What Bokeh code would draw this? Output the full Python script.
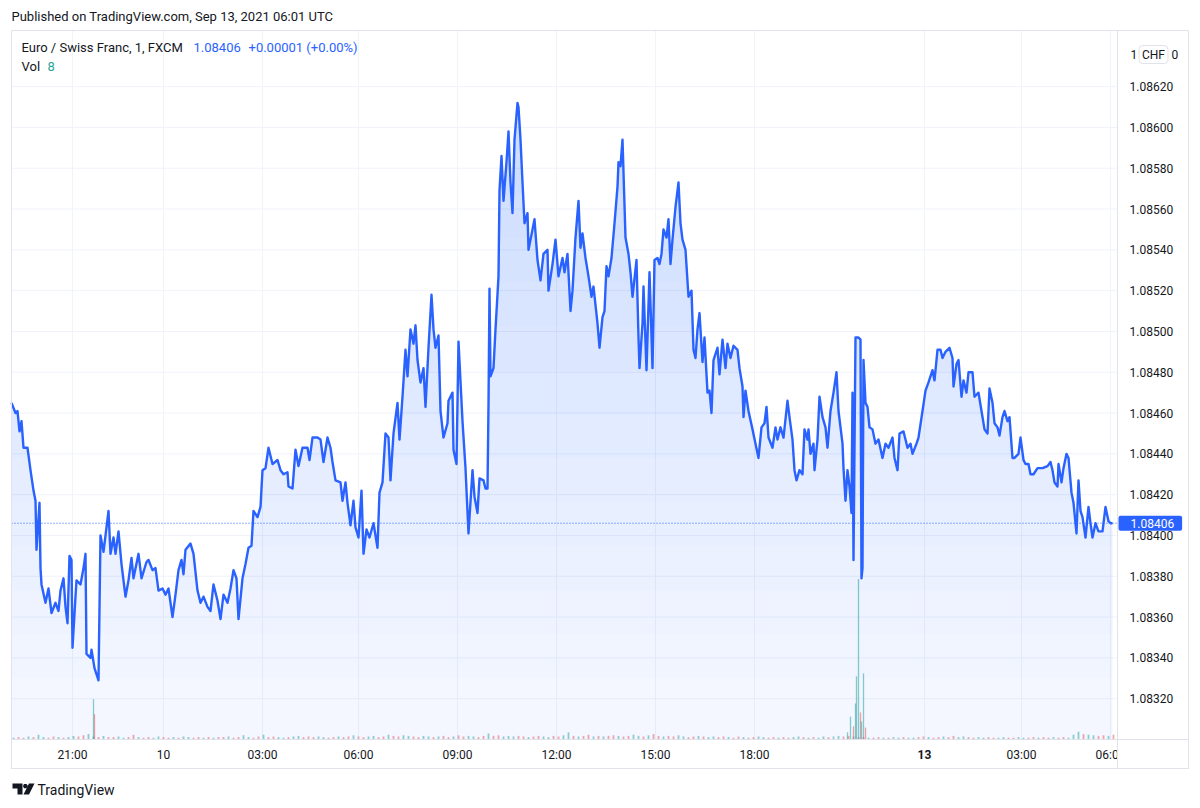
import numpy as np
from bokeh.plotting import figure
from bokeh.models import (Range1d, FixedTicker, PrintfTickFormatter, Label,
                          BoxAnnotation, PolyAnnotation)
from bokeh.embed import file_html
from bokeh.resources import INLINE

# ---------------- data (1-minute EUR/CHF, bar index along the compressed time axis) -------------
bar_idx = [0, 4, 6, 8, 10, 12, 16, 19, 22, 24, 25, 28, 29, 30, 34, 37, 40, 44, 47, 49, 52, 54, 56, 58, 60,
           61, 64, 65, 69, 72, 74, 75, 79, 80, 83, 87, 89, 92, 97, 99, 102, 104, 107, 110, 114, 117, 120,
           122, 127, 130, 135, 137, 141, 144, 147, 151, 154, 157, 161, 164, 167, 170, 172, 174, 179, 182,
           186, 189, 192, 196, 199, 202, 206, 209, 212, 216, 219, 222, 225, 227, 231, 234, 237, 240, 242,
           246, 249, 251, 254, 257, 261, 266, 269, 272, 276, 277, 281, 284, 287, 291, 296, 298, 301, 306,
           309, 312, 316, 319, 321, 324, 329, 331, 334, 336, 339, 342, 344, 347, 350, 352, 355, 358, 362,
           366, 368, 371, 374, 377, 379, 382, 386, 388, 391, 394, 396, 399, 402, 404, 406, 409, 412, 414,
           417, 420, 422, 424, 427, 429, 432, 436, 437, 441, 442, 445, 447, 451, 454, 457, 461, 463, 466,
           468, 472, 474, 476, 477, 478, 479, 482, 484, 487, 488, 490, 492, 495, 497, 499, 501, 503, 506,
           507, 509, 511, 513, 516, 517, 521, 523, 526, 529, 532, 536, 537, 541, 544, 547, 551, 553, 556,
           559, 561, 564, 567, 569, 571, 574, 577, 580, 582, 586, 588, 591, 593, 595, 597, 600, 603, 606,
           607, 609, 611, 612, 614, 617, 619, 621, 625, 627, 628, 631, 632, 635, 638, 641, 643, 646, 648,
           650, 652, 655, 657, 659, 661, 664, 667, 669, 671, 674, 677, 680, 682, 684, 686, 688, 691, 693,
           696, 698, 700, 702, 706, 708, 711, 714, 716, 719, 722, 726, 728, 731, 732, 734, 737, 741, 744,
           747, 750, 753, 755, 757, 761, 764, 766, 769, 772, 776, 778, 781, 783, 785, 788, 791, 793, 796,
           797, 799, 802, 803, 806, 808, 811, 814, 816, 819, 822, 825, 827, 831, 832, 834, 836, 838, 840,
           841, 842, 844, 847, 849, 850, 851, 852, 854, 856, 858, 861, 864, 867, 871, 874, 877, 881, 883,
           886, 888, 892, 896, 899, 901, 905, 907, 911, 914, 917, 921, 923, 926, 929, 931, 934, 938, 941,
           942, 945, 947, 950, 952, 955, 957, 961, 963, 967, 970, 973, 976, 978, 981, 983, 986, 988, 991,
           993, 996, 998, 1001, 1003, 1007, 1009, 1012, 1014, 1017, 1019, 1022, 1026, 1031, 1036, 1039,
           1041, 1043, 1046, 1047, 1050, 1052, 1055, 1057, 1060, 1062, 1065, 1067, 1069, 1071, 1074, 1077,
           1079, 1081, 1084, 1087, 1091, 1094, 1097, 1099, 1101]

close = [1.08465, 1.08460, 1.08461, 1.08451, 1.08456, 1.08443, 1.08443, 1.08432, 1.08422, 1.08417, 1.08393,
         1.08416, 1.08384, 1.08376, 1.08367, 1.08374, 1.08362, 1.08367, 1.08363, 1.08373, 1.08379, 1.08365,
         1.08357, 1.08390, 1.08388, 1.08345, 1.08370, 1.08378, 1.08376, 1.08384, 1.08391, 1.08342, 1.08340,
         1.08344, 1.08335, 1.08329, 1.08400, 1.08392, 1.08412, 1.08391, 1.08399, 1.08391, 1.08402, 1.08386,
         1.08370, 1.08378, 1.08389, 1.08379, 1.08391, 1.08379, 1.08387, 1.08388, 1.08383, 1.08384, 1.08373,
         1.08374, 1.08371, 1.08374, 1.08360, 1.08371, 1.08383, 1.08388, 1.08381, 1.08393, 1.08396, 1.08391,
         1.08373, 1.08367, 1.08370, 1.08365, 1.08363, 1.08376, 1.08368, 1.08359, 1.08371, 1.08367, 1.08374,
         1.08383, 1.08379, 1.08359, 1.08379, 1.08386, 1.08394, 1.08395, 1.08412, 1.08409, 1.08414, 1.08432,
         1.08433, 1.08443, 1.08435, 1.08437, 1.08432, 1.08430, 1.08431, 1.08424, 1.08423, 1.08442, 1.08434,
         1.08443, 1.08443, 1.08437, 1.08448, 1.08448, 1.08447, 1.08436, 1.08448, 1.08443, 1.08436, 1.08427,
         1.08426, 1.08417, 1.08426, 1.08416, 1.08405, 1.08417, 1.08404, 1.08399, 1.08422, 1.08391, 1.08403,
         1.08399, 1.08406, 1.08394, 1.08421, 1.08426, 1.08450, 1.08448, 1.08427, 1.08450, 1.08465, 1.08447,
         1.08468, 1.08491, 1.08478, 1.08501, 1.08494, 1.08503, 1.08486, 1.08475, 1.08482, 1.08463, 1.08492,
         1.08518, 1.08501, 1.08492, 1.08498, 1.08461, 1.08448, 1.08455, 1.08466, 1.08470, 1.08442, 1.08435,
         1.08495, 1.08456, 1.08433, 1.08401, 1.08432, 1.08419, 1.08411, 1.08428, 1.08427, 1.08423, 1.08423,
         1.08464, 1.08521, 1.08478, 1.08482, 1.08501, 1.08527, 1.08569, 1.08586, 1.08564, 1.08583, 1.08598,
         1.08573, 1.08558, 1.08594, 1.08612, 1.08610, 1.08594, 1.08573, 1.08553, 1.08558, 1.08540, 1.08550,
         1.08555, 1.08535, 1.08525, 1.08538, 1.08540, 1.08520, 1.08533, 1.08545, 1.08527, 1.08536, 1.08529,
         1.08538, 1.08510, 1.08520, 1.08546, 1.08564, 1.08541, 1.08548, 1.08536, 1.08527, 1.08517, 1.08522,
         1.08504, 1.08492, 1.08507, 1.08510, 1.08532, 1.08527, 1.08536, 1.08553, 1.08571, 1.08583, 1.08581,
         1.08594, 1.08578, 1.08546, 1.08538, 1.08529, 1.08517, 1.08535, 1.08497, 1.08482, 1.08504, 1.08522,
         1.08481, 1.08529, 1.08482, 1.08535, 1.08536, 1.08533, 1.08538, 1.08550, 1.08546, 1.08555, 1.08533,
         1.08545, 1.08561, 1.08573, 1.08553, 1.08545, 1.08540, 1.08517, 1.08520, 1.08491, 1.08487, 1.08501,
         1.08509, 1.08485, 1.08497, 1.08470, 1.08471, 1.08460, 1.08486, 1.08492, 1.08479, 1.08496, 1.08482,
         1.08494, 1.08487, 1.08493, 1.08491, 1.08482, 1.08473, 1.08458, 1.08471, 1.08461, 1.08452, 1.08445,
         1.08438, 1.08453, 1.08455, 1.08463, 1.08448, 1.08443, 1.08453, 1.08447, 1.08453, 1.08448, 1.08466,
         1.08458, 1.08447, 1.08432, 1.08427, 1.08432, 1.08430, 1.08452, 1.08447, 1.08452, 1.08440, 1.08445,
         1.08432, 1.08447, 1.08468, 1.08458, 1.08453, 1.08443, 1.08461, 1.08470, 1.08480, 1.08461, 1.08445,
         1.08433, 1.08417, 1.08432, 1.08424, 1.08411, 1.08470, 1.08388, 1.08497, 1.08497, 1.08496, 1.08379,
         1.08384, 1.08486, 1.08465, 1.08463, 1.08453, 1.08452, 1.08445, 1.08447, 1.08438, 1.08445, 1.08443,
         1.08448, 1.08438, 1.08432, 1.08450, 1.08451, 1.08443, 1.08445, 1.08440, 1.08445, 1.08448, 1.08461,
         1.08471, 1.08475, 1.08481, 1.08476, 1.08491, 1.08491, 1.08487, 1.08490, 1.08492, 1.08487, 1.08473,
         1.08484, 1.08486, 1.08468, 1.08476, 1.08470, 1.08480, 1.08480, 1.08468, 1.08470, 1.08461, 1.08452,
         1.08450, 1.08472, 1.08465, 1.08455, 1.08453, 1.08449, 1.08458, 1.08461, 1.08456, 1.08458, 1.08438,
         1.08438, 1.08440, 1.08448, 1.08437, 1.08435, 1.08435, 1.08430, 1.08430, 1.08433, 1.08433, 1.08434,
         1.08436, 1.08432, 1.08426, 1.08424, 1.08435, 1.08426, 1.08433, 1.08440, 1.08438, 1.08421, 1.08416,
         1.08401, 1.08427, 1.08412, 1.08409, 1.08399, 1.08414, 1.08406, 1.08399, 1.08406, 1.08402, 1.08402,
         1.08414, 1.08407, 1.08406, 1.08406]

# volume: background bars every 5 bars, plus the tall spikes
vol_bar = list(range(2, 1103, 5))
vol = [3, 4, 3, 5, 4, 8, 4, 3, 5, 4, 3, 4, 6, 5, 7, 9, 5, 4, 6, 4,
       4, 5, 3, 4, 8, 4, 3, 4, 3, 5, 4, 3, 4, 3, 5, 4, 3, 4, 3, 4,
       3, 4, 4, 5, 3, 4, 7, 4, 3, 5, 8, 4, 5, 4, 3, 4, 5, 6, 4, 5,
       4, 5, 4, 3, 4, 5, 4, 5, 7, 5, 4, 5, 6, 4, 5, 8, 6, 5, 7, 6,
       5, 4, 6, 5, 4, 5, 6, 4, 5, 7, 5, 6, 5, 4, 6, 10, 6, 7, 5, 6,
       5, 6, 5, 4, 5, 6, 5, 4, 6, 5, 7, 12, 6, 5, 6, 8, 5, 6, 5, 6,
       7, 6, 5, 6, 8, 6, 5, 7, 9, 6, 5, 6, 5, 7, 5, 4, 5, 6, 5, 4,
       5, 4, 5, 4, 3, 5, 4, 3, 4, 5, 4, 3, 4, 3, 4, 3, 4, 5, 4, 3,
       4, 3, 5, 4, 5, 6, 5, 6, 5, 4, 4, 3, 3, 4, 3, 3, 4, 3, 4, 3,
       3, 4, 5, 4, 3, 4, 5, 4, 6, 4, 5, 4, 3, 4, 3, 4, 3, 3, 4, 3,
       3, 4, 3, 3, 4, 3, 4, 3, 4, 3, 4, 3, 8, 13, 9, 8, 7, 6, 7, 6, 8]
vol_dir = ("udduduudduduudduudud" "duuddudduudduduuddud" "uddudduuddudduuduudd"
           "duudduddudduuddudduu" "dduududdudduuddudduu" "uddudduudduududdudud"
           "dudduududdudduuddudu" "udduddudduuddudduudu" "duuduudduddudduduudu"
           "udduddudduudduudduud" "duudduddudduuuduuddud")
spike_bar = [82, 83, 836, 839, 842, 844, 845, 847, 849, 850, 852, 854]
spike_vol = [67, 42, 12, 38, 22, 60, 105, 267, 45, 30, 110, 20]
spike_dir = "uduuduuuduud"

time_tick_bars = [61, 152, 251, 347, 446, 545, 644, 743, 913, 1010, 1099]
time_tick_labels = ["21:00", "10", "03:00", "06:00", "09:00", "12:00", "15:00", "18:00", "13", "03:00", "06:00"]
price_ticks = [1.0832, 1.0834, 1.0836, 1.0838, 1.0840, 1.0842, 1.0844, 1.0846,
               1.0848, 1.0850, 1.0852, 1.0854, 1.0856, 1.0858, 1.0860, 1.0862]
last_price = 1.08406
last_vol = 8

# ---------------- layout / styling -------------
FONT = "Roboto"
BLUE = "#2962FF"
TXT = "#131722"
BORDER = "#e0e3eb"
GRID = "#f0f3fa"
UP = "#26a69a"
DOWN = "#ef5350"

W, H = 1192, 800                    # canvas (px)
LEFT, TOP = 11, 30                  # chart box origin (px)
PANE_W, PANE_H = 1106, 709          # price pane (px)
SCALE_W, TIME_H = 71, 29            # price-scale column / time-scale row (px)
Y0, Y1 = 1.08300, 1.086475          # price at bottom / top of the pane
VOL_TOP = 1180                      # volume units at the top of the pane
ppx = PANE_H / (Y1 - Y0)            # px per price unit
vpx = PANE_H / VOL_TOP              # px per volume unit
below = H - TOP - PANE_H            # px below the pane bottom
YB = Y0 - TIME_H / ppx              # price at the bottom of the chart box

p = figure(frame_width=W, frame_height=H,
           x_range=Range1d(-LEFT, W - LEFT), y_range=Range1d(Y0 - below / ppx, Y0 + (TOP + PANE_H) / ppx),
           output_backend="svg", toolbar_location=None, y_axis_location="right", title=None,
           min_border=0)
p.background_fill_color = "white"
p.border_fill_color = "white"
p.outline_line_color = None
p.extra_y_ranges = {"vol": Range1d(-below / vpx, (TOP + PANE_H) / vpx)}
p.xgrid.visible = False
p.ygrid.visible = False

# grid lines limited to the price pane
p.segment(x0=0, x1=PANE_W, y0=price_ticks, y1=price_ticks, line_color=GRID, line_width=1)
p.segment(x0=time_tick_bars, x1=time_tick_bars, y0=Y0, y1=Y1, line_color=GRID, line_width=1)

# volume
p.vbar(x=vol_bar, top=vol, width=1.8, bottom=0, y_range_name="vol",
       fill_color=[UP if d == "u" else DOWN for d in vol_dir], line_color=None, fill_alpha=0.5)
p.vbar(x=spike_bar, top=spike_vol, width=1.3, bottom=0, y_range_name="vol",
       fill_color=[UP if d == "u" else DOWN for d in spike_dir], line_color=None, fill_alpha=0.55)

# area with vertical gradient (stacked translucent layers)
cl = np.array(close)
p.varea(x=bar_idx, y1=Y0, y2=close, fill_color=BLUE, fill_alpha=0.05)
for lvl in np.linspace(1.08330, 1.08610, 14):
    p.varea(x=bar_idx, y1=lvl, y2=np.maximum(cl, lvl), fill_color=BLUE, fill_alpha=0.0135)

p.line(bar_idx, close, line_color=BLUE, line_width=2.4, line_join="round")

p.segment(x0=0, x1=PANE_W, y0=last_price, y1=last_price, line_color=BLUE,
          line_dash="1 2", line_width=1)

# axes, fixed at the inner separators of the chart box
xt = FixedTicker(ticks=time_tick_bars)
p.xaxis.ticker = xt
overrides = {b: l for b, l in zip(time_tick_bars, time_tick_labels)}
overrides[913] = " "
p.xaxis.major_label_overrides = overrides
p.xaxis.fixed_location = Y0
p.yaxis.ticker = FixedTicker(ticks=price_ticks)
p.yaxis.formatter = PrintfTickFormatter(format="%.5f")
p.yaxis.fixed_location = PANE_W
for ax in (p.xaxis, p.yaxis):
    ax.axis_line_color = None
    ax.major_tick_line_color = None
    ax.minor_tick_line_color = None
    ax.major_tick_out = 0
    ax.major_tick_in = 0
    ax.major_label_text_font = FONT
    ax.major_label_text_font_size = "12px"
    ax.major_label_text_color = TXT
p.xaxis.major_label_standoff = 8
p.yaxis.major_label_standoff = 12
p.yaxis.major_label_text_align = "left"

# chart box: outer border, the scale separators, and the corner cell
def frame_box(l, r, b, t, fill=False):
    p.add_layout(BoxAnnotation(left=l, right=r, bottom=b, top=t, fill_color="white",
                               fill_alpha=1.0 if fill else 0.0, line_color=BORDER, line_alpha=1.0,
                               line_width=1))

frame_box(PANE_W, PANE_W + SCALE_W, YB, Y0, fill=True)
frame_box(0, PANE_W + SCALE_W, YB, Y1)
frame_box(0, PANE_W, YB, Y1)
frame_box(0, PANE_W + SCALE_W, Y0, Y1)

# texts in canvas pixels (x from left, y from top)
def scr(x, y, s, color=TXT, size="12px", **kw):
    p.add_layout(Label(x=x - LEFT, y=H - y, x_units="data", y_units="screen", text=s, text_font=FONT,
                       text_font_size=size, text_color=color, text_baseline="middle", **kw))

scr(924, 754, "13", text_align="center", text_font_style="bold")

# last price tag
p.add_layout(Label(x=PANE_W + 1, y=last_price, x_units="data", y_units="data", text=f"{last_price:.5f}",
                   text_font=FONT, text_font_size="12px", text_color="white", text_baseline="middle",
                   background_fill_color=BLUE, background_fill_alpha=1.0,
                   padding=dict(left=12, right=8, top=3, bottom=3), border_radius=2))

# currency badge at the top of the price scale
scr(1153, 54, "CHF", text_align="center", background_fill_color="white",
    background_fill_alpha=1.0, border_line_color=BORDER, padding=dict(left=3, right=3, top=2, bottom=2),
    border_radius=4)
scr(1130, 54, "1")
scr(1171, 54, "0")

# header / legend / footer texts
scr(11, 16, "Published on TradingView.com, Sep 13, 2021 06:01 UTC", size="13px")
scr(21, 47, "Euro / Swiss Franc, 1, FXCM", size="13px")
scr(193, 47, f"{last_price:.5f}", color=BLUE, size="13px")
scr(248, 47, "+0.00001 (+0.00%)", color=BLUE, size="13px")
scr(21, 66, "Vol", size="13px")
scr(47, 66, str(last_vol), color=UP, size="13px")
scr(37, 789, "TradingView", size="14px")

# TradingView logo mark
def poly(pts):
    p.add_layout(PolyAnnotation(xs=[a for a, _ in pts], ys=[H - b for _, b in pts],
                                xs_units="screen", ys_units="screen", fill_color=TXT, fill_alpha=1.0,
                                line_color=None))

poly([(12, 783), (22, 783), (22, 794), (17, 794), (17, 788), (12, 788)])
poly([(23.5, 783.5), (26, 783.5), (27.5, 785.5), (26, 787.8), (23.5, 787.8), (22.5, 785.5)])
poly([(28.5, 783), (34, 783), (28.5, 794), (23, 794)])

open("out.html", "w").write(file_html(p, INLINE))
